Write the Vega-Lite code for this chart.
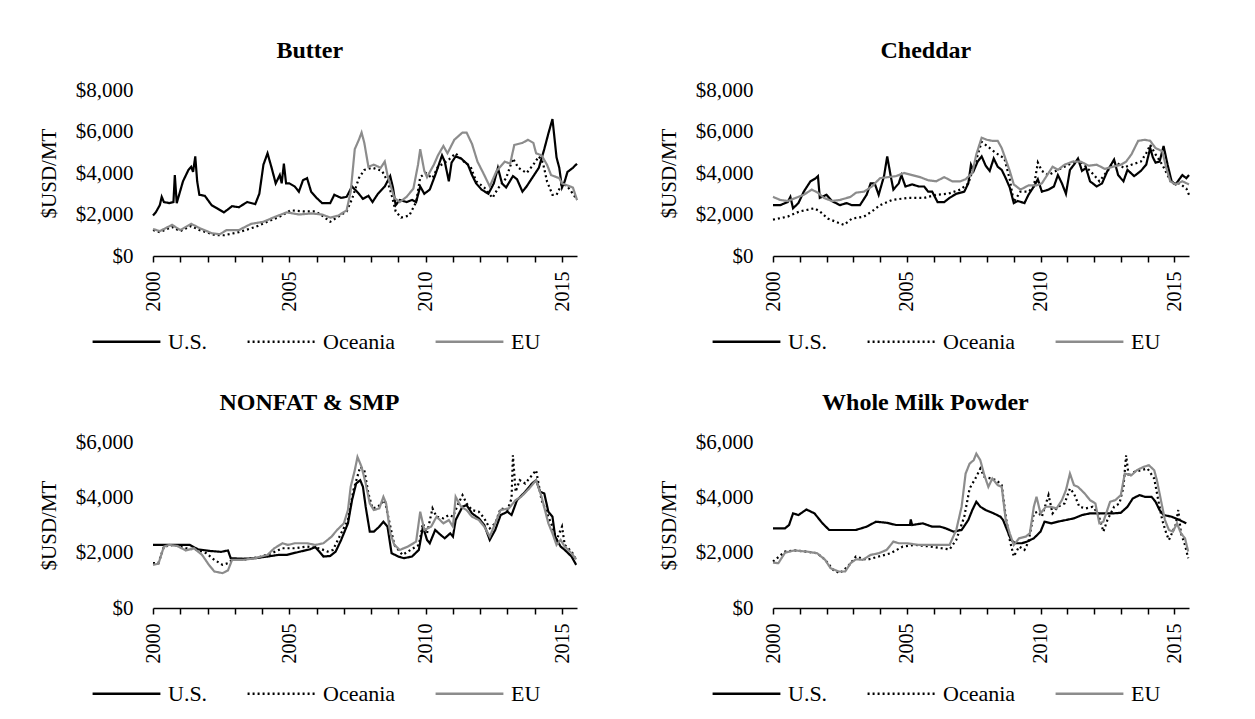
{
"$schema": "https://vega.github.io/schema/vega-lite/v6.json",
"background": "white",
"padding": {"left": 38, "top": 39, "right": 5, "bottom": 5},
"columns": 2,
"bounds": "flush",
"spacing": {"row": 186, "column": 196},
"datasets": {
"butter": [
{"s":"U.S.","t":2000.0,"v":1950},{"s":"U.S.","t":2000.1,"v":2100},{"s":"U.S.","t":2000.25,"v":2450},{"s":"U.S.","t":2000.32,"v":2850},{"s":"U.S.","t":2000.4,"v":2600},{"s":"U.S.","t":2000.6,"v":2550},{"s":"U.S.","t":2000.75,"v":2600},{"s":"U.S.","t":2000.8,"v":3900},{"s":"U.S.","t":2000.87,"v":2550},{"s":"U.S.","t":2001.1,"v":3600},{"s":"U.S.","t":2001.3,"v":4150},{"s":"U.S.","t":2001.4,"v":4300},{"s":"U.S.","t":2001.47,"v":4050},{"s":"U.S.","t":2001.55,"v":4800},{"s":"U.S.","t":2001.62,"v":3600},{"s":"U.S.","t":2001.7,"v":2950},{"s":"U.S.","t":2001.9,"v":2900},{"s":"U.S.","t":2002.15,"v":2450},{"s":"U.S.","t":2002.35,"v":2300},{"s":"U.S.","t":2002.6,"v":2100},{"s":"U.S.","t":2002.9,"v":2400},{"s":"U.S.","t":2003.15,"v":2350},{"s":"U.S.","t":2003.45,"v":2600},{"s":"U.S.","t":2003.75,"v":2500},{"s":"U.S.","t":2003.9,"v":3000},{"s":"U.S.","t":2004.05,"v":4400},{"s":"U.S.","t":2004.2,"v":4950},{"s":"U.S.","t":2004.35,"v":4250},{"s":"U.S.","t":2004.5,"v":3500},{"s":"U.S.","t":2004.65,"v":3900},{"s":"U.S.","t":2004.72,"v":3500},{"s":"U.S.","t":2004.8,"v":4450},{"s":"U.S.","t":2004.88,"v":3500},{"s":"U.S.","t":2005.0,"v":3500},{"s":"U.S.","t":2005.2,"v":3350},{"s":"U.S.","t":2005.35,"v":3100},{"s":"U.S.","t":2005.5,"v":3650},{"s":"U.S.","t":2005.65,"v":3750},{"s":"U.S.","t":2005.8,"v":3100},{"s":"U.S.","t":2006.0,"v":2800},{"s":"U.S.","t":2006.2,"v":2550},{"s":"U.S.","t":2006.5,"v":2550},{"s":"U.S.","t":2006.65,"v":2950},{"s":"U.S.","t":2006.9,"v":2800},{"s":"U.S.","t":2007.1,"v":2850},{"s":"U.S.","t":2007.3,"v":3350},{"s":"U.S.","t":2007.55,"v":3000},{"s":"U.S.","t":2007.7,"v":2750},{"s":"U.S.","t":2007.9,"v":2900},{"s":"U.S.","t":2008.05,"v":2600},{"s":"U.S.","t":2008.25,"v":3000},{"s":"U.S.","t":2008.5,"v":3350},{"s":"U.S.","t":2008.6,"v":3600},{"s":"U.S.","t":2008.7,"v":3850},{"s":"U.S.","t":2008.8,"v":3300},{"s":"U.S.","t":2008.9,"v":2450},{"s":"U.S.","t":2009.05,"v":2700},{"s":"U.S.","t":2009.3,"v":2600},{"s":"U.S.","t":2009.5,"v":2700},{"s":"U.S.","t":2009.65,"v":2600},{"s":"U.S.","t":2009.8,"v":3350},{"s":"U.S.","t":2009.95,"v":3000},{"s":"U.S.","t":2010.15,"v":3200},{"s":"U.S.","t":2010.35,"v":3900},{"s":"U.S.","t":2010.6,"v":4850},{"s":"U.S.","t":2010.7,"v":4550},{"s":"U.S.","t":2010.85,"v":3600},{"s":"U.S.","t":2010.95,"v":4500},{"s":"U.S.","t":2011.1,"v":4800},{"s":"U.S.","t":2011.3,"v":4700},{"s":"U.S.","t":2011.55,"v":4400},{"s":"U.S.","t":2011.7,"v":3900},{"s":"U.S.","t":2011.85,"v":3500},{"s":"U.S.","t":2012.05,"v":3200},{"s":"U.S.","t":2012.3,"v":3000},{"s":"U.S.","t":2012.5,"v":3500},{"s":"U.S.","t":2012.65,"v":4250},{"s":"U.S.","t":2012.8,"v":3500},{"s":"U.S.","t":2012.95,"v":3300},{"s":"U.S.","t":2013.2,"v":3850},{"s":"U.S.","t":2013.35,"v":3700},{"s":"U.S.","t":2013.55,"v":3100},{"s":"U.S.","t":2013.7,"v":3350},{"s":"U.S.","t":2013.95,"v":3850},{"s":"U.S.","t":2014.15,"v":4250},{"s":"U.S.","t":2014.35,"v":5150},{"s":"U.S.","t":2014.5,"v":5900},{"s":"U.S.","t":2014.65,"v":6600},{"s":"U.S.","t":2014.8,"v":4750},{"s":"U.S.","t":2014.9,"v":4250},{"s":"U.S.","t":2015.0,"v":3300},{"s":"U.S.","t":2015.1,"v":3600},{"s":"U.S.","t":2015.2,"v":4050},{"s":"U.S.","t":2015.4,"v":4250},{"s":"U.S.","t":2015.55,"v":4450},
{"s":"Oceania","t":2000.0,"v":1250},{"s":"Oceania","t":2000.25,"v":1150},{"s":"Oceania","t":2000.7,"v":1400},{"s":"Oceania","t":2001.0,"v":1200},{"s":"Oceania","t":2001.4,"v":1450},{"s":"Oceania","t":2001.7,"v":1250},{"s":"Oceania","t":2002.3,"v":1000},{"s":"Oceania","t":2002.6,"v":1000},{"s":"Oceania","t":2003.15,"v":1150},{"s":"Oceania","t":2003.75,"v":1400},{"s":"Oceania","t":2004.2,"v":1650},{"s":"Oceania","t":2004.65,"v":1900},{"s":"Oceania","t":2005.05,"v":2200},{"s":"Oceania","t":2005.5,"v":2150},{"s":"Oceania","t":2005.95,"v":2150},{"s":"Oceania","t":2006.2,"v":1950},{"s":"Oceania","t":2006.5,"v":1650},{"s":"Oceania","t":2006.8,"v":1900},{"s":"Oceania","t":2007.1,"v":2150},{"s":"Oceania","t":2007.3,"v":2750},{"s":"Oceania","t":2007.55,"v":3750},{"s":"Oceania","t":2007.75,"v":4150},{"s":"Oceania","t":2008.05,"v":4250},{"s":"Oceania","t":2008.4,"v":4100},{"s":"Oceania","t":2008.6,"v":3600},{"s":"Oceania","t":2008.75,"v":2950},{"s":"Oceania","t":2008.9,"v":2150},{"s":"Oceania","t":2009.1,"v":1850},{"s":"Oceania","t":2009.4,"v":1950},{"s":"Oceania","t":2009.65,"v":2600},{"s":"Oceania","t":2009.8,"v":3800},{"s":"Oceania","t":2010.0,"v":4000},{"s":"Oceania","t":2010.25,"v":3750},{"s":"Oceania","t":2010.45,"v":4300},{"s":"Oceania","t":2010.65,"v":4450},{"s":"Oceania","t":2010.9,"v":4700},{"s":"Oceania","t":2011.1,"v":4950},{"s":"Oceania","t":2011.35,"v":4600},{"s":"Oceania","t":2011.65,"v":4300},{"s":"Oceania","t":2011.85,"v":3600},{"s":"Oceania","t":2012.15,"v":3300},{"s":"Oceania","t":2012.45,"v":2800},{"s":"Oceania","t":2012.65,"v":3250},{"s":"Oceania","t":2012.95,"v":3750},{"s":"Oceania","t":2013.2,"v":4700},{"s":"Oceania","t":2013.4,"v":4250},{"s":"Oceania","t":2013.7,"v":4000},{"s":"Oceania","t":2013.95,"v":4400},{"s":"Oceania","t":2014.15,"v":4800},{"s":"Oceania","t":2014.3,"v":4500},{"s":"Oceania","t":2014.45,"v":3600},{"s":"Oceania","t":2014.65,"v":2950},{"s":"Oceania","t":2014.8,"v":2950},{"s":"Oceania","t":2015.0,"v":3500},{"s":"Oceania","t":2015.2,"v":3350},{"s":"Oceania","t":2015.4,"v":3000},{"s":"Oceania","t":2015.55,"v":2700},
{"s":"EU","t":2000.0,"v":1300},{"s":"EU","t":2000.25,"v":1200},{"s":"EU","t":2000.7,"v":1500},{"s":"EU","t":2001.0,"v":1250},{"s":"EU","t":2001.4,"v":1550},{"s":"EU","t":2001.7,"v":1350},{"s":"EU","t":2002.15,"v":1100},{"s":"EU","t":2002.45,"v":1050},{"s":"EU","t":2002.7,"v":1250},{"s":"EU","t":2003.15,"v":1250},{"s":"EU","t":2003.6,"v":1550},{"s":"EU","t":2004.05,"v":1650},{"s":"EU","t":2004.5,"v":1900},{"s":"EU","t":2004.9,"v":2100},{"s":"EU","t":2005.35,"v":2000},{"s":"EU","t":2005.8,"v":2050},{"s":"EU","t":2006.2,"v":2000},{"s":"EU","t":2006.5,"v":1850},{"s":"EU","t":2006.8,"v":1950},{"s":"EU","t":2007.1,"v":2200},{"s":"EU","t":2007.25,"v":3100},{"s":"EU","t":2007.4,"v":5150},{"s":"EU","t":2007.55,"v":5600},{"s":"EU","t":2007.65,"v":5950},{"s":"EU","t":2007.75,"v":5450},{"s":"EU","t":2007.9,"v":4300},{"s":"EU","t":2008.1,"v":4400},{"s":"EU","t":2008.35,"v":4250},{"s":"EU","t":2008.5,"v":4550},{"s":"EU","t":2008.6,"v":3900},{"s":"EU","t":2008.85,"v":2800},{"s":"EU","t":2009.05,"v":2600},{"s":"EU","t":2009.3,"v":2850},{"s":"EU","t":2009.55,"v":3250},{"s":"EU","t":2009.72,"v":4400},{"s":"EU","t":2009.8,"v":5150},{"s":"EU","t":2009.95,"v":4100},{"s":"EU","t":2010.05,"v":3800},{"s":"EU","t":2010.3,"v":4400},{"s":"EU","t":2010.45,"v":4850},{"s":"EU","t":2010.65,"v":5300},{"s":"EU","t":2010.8,"v":4950},{"s":"EU","t":2011.05,"v":5600},{"s":"EU","t":2011.35,"v":5950},{"s":"EU","t":2011.5,"v":5950},{"s":"EU","t":2011.7,"v":5400},{"s":"EU","t":2011.9,"v":4550},{"s":"EU","t":2012.15,"v":3900},{"s":"EU","t":2012.35,"v":3350},{"s":"EU","t":2012.6,"v":4100},{"s":"EU","t":2012.9,"v":4550},{"s":"EU","t":2013.1,"v":4450},{"s":"EU","t":2013.25,"v":5350},{"s":"EU","t":2013.55,"v":5450},{"s":"EU","t":2013.75,"v":5600},{"s":"EU","t":2013.95,"v":5450},{"s":"EU","t":2014.05,"v":4950},{"s":"EU","t":2014.25,"v":4850},{"s":"EU","t":2014.45,"v":4400},{"s":"EU","t":2014.6,"v":3900},{"s":"EU","t":2014.9,"v":3750},{"s":"EU","t":2015.0,"v":3500},{"s":"EU","t":2015.2,"v":3400},{"s":"EU","t":2015.4,"v":3300},{"s":"EU","t":2015.55,"v":2700}
],
"cheddar": [
{"s":"U.S.","t":2000.0,"v":2450},{"s":"U.S.","t":2000.27,"v":2450},{"s":"U.S.","t":2000.55,"v":2600},{"s":"U.S.","t":2000.65,"v":2850},{"s":"U.S.","t":2000.75,"v":2300},{"s":"U.S.","t":2000.95,"v":2550},{"s":"U.S.","t":2001.15,"v":3100},{"s":"U.S.","t":2001.4,"v":3600},{"s":"U.S.","t":2001.6,"v":3750},{"s":"U.S.","t":2001.68,"v":3850},{"s":"U.S.","t":2001.75,"v":2800},{"s":"U.S.","t":2002.0,"v":2950},{"s":"U.S.","t":2002.2,"v":2650},{"s":"U.S.","t":2002.5,"v":2450},{"s":"U.S.","t":2002.75,"v":2550},{"s":"U.S.","t":2002.95,"v":2450},{"s":"U.S.","t":2003.25,"v":2450},{"s":"U.S.","t":2003.5,"v":2950},{"s":"U.S.","t":2003.65,"v":3500},{"s":"U.S.","t":2003.8,"v":3500},{"s":"U.S.","t":2003.95,"v":2950},{"s":"U.S.","t":2004.15,"v":3850},{"s":"U.S.","t":2004.27,"v":4800},{"s":"U.S.","t":2004.4,"v":3850},{"s":"U.S.","t":2004.5,"v":3200},{"s":"U.S.","t":2004.7,"v":3500},{"s":"U.S.","t":2004.8,"v":3900},{"s":"U.S.","t":2004.95,"v":3350},{"s":"U.S.","t":2005.2,"v":3450},{"s":"U.S.","t":2005.45,"v":3350},{"s":"U.S.","t":2005.65,"v":3350},{"s":"U.S.","t":2005.8,"v":3100},{"s":"U.S.","t":2005.95,"v":3100},{"s":"U.S.","t":2006.15,"v":2600},{"s":"U.S.","t":2006.4,"v":2600},{"s":"U.S.","t":2006.6,"v":2800},{"s":"U.S.","t":2006.85,"v":3000},{"s":"U.S.","t":2007.15,"v":3100},{"s":"U.S.","t":2007.3,"v":3500},{"s":"U.S.","t":2007.4,"v":4400},{"s":"U.S.","t":2007.5,"v":4100},{"s":"U.S.","t":2007.65,"v":4550},{"s":"U.S.","t":2007.8,"v":4800},{"s":"U.S.","t":2007.95,"v":4350},{"s":"U.S.","t":2008.1,"v":4100},{"s":"U.S.","t":2008.25,"v":4700},{"s":"U.S.","t":2008.4,"v":4300},{"s":"U.S.","t":2008.55,"v":4150},{"s":"U.S.","t":2008.7,"v":3750},{"s":"U.S.","t":2008.85,"v":3300},{"s":"U.S.","t":2009.0,"v":2550},{"s":"U.S.","t":2009.15,"v":2650},{"s":"U.S.","t":2009.4,"v":2550},{"s":"U.S.","t":2009.55,"v":2950},{"s":"U.S.","t":2009.75,"v":3350},{"s":"U.S.","t":2009.9,"v":3700},{"s":"U.S.","t":2010.05,"v":3100},{"s":"U.S.","t":2010.3,"v":3200},{"s":"U.S.","t":2010.5,"v":3350},{"s":"U.S.","t":2010.65,"v":3900},{"s":"U.S.","t":2010.8,"v":3500},{"s":"U.S.","t":2010.95,"v":3000},{"s":"U.S.","t":2011.1,"v":4150},{"s":"U.S.","t":2011.25,"v":4400},{"s":"U.S.","t":2011.4,"v":4700},{"s":"U.S.","t":2011.55,"v":4100},{"s":"U.S.","t":2011.7,"v":4250},{"s":"U.S.","t":2011.85,"v":3600},{"s":"U.S.","t":2012.1,"v":3350},{"s":"U.S.","t":2012.3,"v":3500},{"s":"U.S.","t":2012.5,"v":4100},{"s":"U.S.","t":2012.75,"v":4650},{"s":"U.S.","t":2012.9,"v":3900},{"s":"U.S.","t":2013.1,"v":3600},{"s":"U.S.","t":2013.25,"v":4150},{"s":"U.S.","t":2013.5,"v":3850},{"s":"U.S.","t":2013.75,"v":4100},{"s":"U.S.","t":2013.95,"v":4400},{"s":"U.S.","t":2014.1,"v":5200},{"s":"U.S.","t":2014.2,"v":4750},{"s":"U.S.","t":2014.3,"v":4500},{"s":"U.S.","t":2014.45,"v":4550},{"s":"U.S.","t":2014.6,"v":5300},{"s":"U.S.","t":2014.75,"v":4400},{"s":"U.S.","t":2014.9,"v":3600},{"s":"U.S.","t":2015.05,"v":3450},{"s":"U.S.","t":2015.3,"v":3900},{"s":"U.S.","t":2015.45,"v":3750},{"s":"U.S.","t":2015.55,"v":3900},
{"s":"Oceania","t":2000.0,"v":1750},{"s":"Oceania","t":2000.55,"v":1900},{"s":"Oceania","t":2001.0,"v":2150},{"s":"Oceania","t":2001.55,"v":2300},{"s":"Oceania","t":2001.75,"v":2150},{"s":"Oceania","t":2002.05,"v":1800},{"s":"Oceania","t":2002.35,"v":1650},{"s":"Oceania","t":2002.65,"v":1500},{"s":"Oceania","t":2002.95,"v":1800},{"s":"Oceania","t":2003.4,"v":1900},{"s":"Oceania","t":2003.7,"v":2150},{"s":"Oceania","t":2004.0,"v":2450},{"s":"Oceania","t":2004.45,"v":2700},{"s":"Oceania","t":2005.05,"v":2800},{"s":"Oceania","t":2005.65,"v":2800},{"s":"Oceania","t":2006.1,"v":2950},{"s":"Oceania","t":2006.55,"v":3000},{"s":"Oceania","t":2007.0,"v":3200},{"s":"Oceania","t":2007.3,"v":3500},{"s":"Oceania","t":2007.6,"v":4650},{"s":"Oceania","t":2007.8,"v":5500},{"s":"Oceania","t":2008.05,"v":5250},{"s":"Oceania","t":2008.35,"v":4950},{"s":"Oceania","t":2008.65,"v":4700},{"s":"Oceania","t":2008.85,"v":3700},{"s":"Oceania","t":2009.0,"v":2600},{"s":"Oceania","t":2009.25,"v":3100},{"s":"Oceania","t":2009.55,"v":3100},{"s":"Oceania","t":2009.75,"v":3350},{"s":"Oceania","t":2009.9,"v":4500},{"s":"Oceania","t":2010.05,"v":4100},{"s":"Oceania","t":2010.3,"v":3900},{"s":"Oceania","t":2010.65,"v":4150},{"s":"Oceania","t":2011.05,"v":4400},{"s":"Oceania","t":2011.4,"v":4650},{"s":"Oceania","t":2011.7,"v":4300},{"s":"Oceania","t":2012.0,"v":3900},{"s":"Oceania","t":2012.2,"v":3600},{"s":"Oceania","t":2012.5,"v":4100},{"s":"Oceania","t":2012.8,"v":4550},{"s":"Oceania","t":2013.1,"v":4250},{"s":"Oceania","t":2013.4,"v":4400},{"s":"Oceania","t":2013.75,"v":4550},{"s":"Oceania","t":2013.95,"v":4950},{"s":"Oceania","t":2014.1,"v":5350},{"s":"Oceania","t":2014.3,"v":4900},{"s":"Oceania","t":2014.55,"v":4400},{"s":"Oceania","t":2014.75,"v":3900},{"s":"Oceania","t":2014.9,"v":3500},{"s":"Oceania","t":2015.2,"v":3500},{"s":"Oceania","t":2015.45,"v":3250},{"s":"Oceania","t":2015.55,"v":2950},
{"s":"EU","t":2000.0,"v":2850},{"s":"EU","t":2000.27,"v":2700},{"s":"EU","t":2000.55,"v":2650},{"s":"EU","t":2000.85,"v":2800},{"s":"EU","t":2001.15,"v":2950},{"s":"EU","t":2001.45,"v":3200},{"s":"EU","t":2001.68,"v":3050},{"s":"EU","t":2001.9,"v":2800},{"s":"EU","t":2002.2,"v":2650},{"s":"EU","t":2002.5,"v":2700},{"s":"EU","t":2002.9,"v":2850},{"s":"EU","t":2003.1,"v":3050},{"s":"EU","t":2003.4,"v":3100},{"s":"EU","t":2003.7,"v":3350},{"s":"EU","t":2004.0,"v":3750},{"s":"EU","t":2004.3,"v":3800},{"s":"EU","t":2004.6,"v":3850},{"s":"EU","t":2004.9,"v":4000},{"s":"EU","t":2005.2,"v":3900},{"s":"EU","t":2005.5,"v":3800},{"s":"EU","t":2005.8,"v":3650},{"s":"EU","t":2006.1,"v":3600},{"s":"EU","t":2006.4,"v":3800},{"s":"EU","t":2006.7,"v":3600},{"s":"EU","t":2007.0,"v":3600},{"s":"EU","t":2007.2,"v":3700},{"s":"EU","t":2007.45,"v":4000},{"s":"EU","t":2007.6,"v":4900},{"s":"EU","t":2007.8,"v":5700},{"s":"EU","t":2008.0,"v":5600},{"s":"EU","t":2008.2,"v":5550},{"s":"EU","t":2008.4,"v":5550},{"s":"EU","t":2008.55,"v":5200},{"s":"EU","t":2008.7,"v":4650},{"s":"EU","t":2008.85,"v":4100},{"s":"EU","t":2009.0,"v":3450},{"s":"EU","t":2009.25,"v":3200},{"s":"EU","t":2009.55,"v":3400},{"s":"EU","t":2009.85,"v":3400},{"s":"EU","t":2010.05,"v":3500},{"s":"EU","t":2010.3,"v":4000},{"s":"EU","t":2010.45,"v":4300},{"s":"EU","t":2010.65,"v":4150},{"s":"EU","t":2010.9,"v":4400},{"s":"EU","t":2011.2,"v":4550},{"s":"EU","t":2011.5,"v":4550},{"s":"EU","t":2011.8,"v":4350},{"s":"EU","t":2012.1,"v":4400},{"s":"EU","t":2012.4,"v":4200},{"s":"EU","t":2012.7,"v":4300},{"s":"EU","t":2013.0,"v":4400},{"s":"EU","t":2013.2,"v":4550},{"s":"EU","t":2013.4,"v":4900},{"s":"EU","t":2013.65,"v":5550},{"s":"EU","t":2013.9,"v":5600},{"s":"EU","t":2014.1,"v":5550},{"s":"EU","t":2014.3,"v":5200},{"s":"EU","t":2014.55,"v":5050},{"s":"EU","t":2014.7,"v":4250},{"s":"EU","t":2014.85,"v":3600},{"s":"EU","t":2015.05,"v":3450},{"s":"EU","t":2015.3,"v":3600},{"s":"EU","t":2015.55,"v":3450}
],
"nonfat": [
{"s":"U.S.","t":2000.0,"v":2280},{"s":"U.S.","t":2000.9,"v":2280},{"s":"U.S.","t":2001.35,"v":2280},{"s":"U.S.","t":2001.65,"v":2120},{"s":"U.S.","t":2002.1,"v":2060},{"s":"U.S.","t":2002.5,"v":2030},{"s":"U.S.","t":2002.75,"v":2080},{"s":"U.S.","t":2002.85,"v":1800},{"s":"U.S.","t":2003.3,"v":1780},{"s":"U.S.","t":2003.75,"v":1800},{"s":"U.S.","t":2004.2,"v":1860},{"s":"U.S.","t":2004.6,"v":1920},{"s":"U.S.","t":2004.9,"v":1920},{"s":"U.S.","t":2005.4,"v":2040},{"s":"U.S.","t":2005.75,"v":2120},{"s":"U.S.","t":2005.95,"v":2200},{"s":"U.S.","t":2006.1,"v":2040},{"s":"U.S.","t":2006.25,"v":1860},{"s":"U.S.","t":2006.5,"v":1880},{"s":"U.S.","t":2006.7,"v":2040},{"s":"U.S.","t":2006.9,"v":2460},{"s":"U.S.","t":2007.15,"v":3060},{"s":"U.S.","t":2007.3,"v":3900},{"s":"U.S.","t":2007.45,"v":4500},{"s":"U.S.","t":2007.6,"v":4620},{"s":"U.S.","t":2007.7,"v":4380},{"s":"U.S.","t":2007.8,"v":3660},{"s":"U.S.","t":2007.95,"v":2760},{"s":"U.S.","t":2008.1,"v":2760},{"s":"U.S.","t":2008.3,"v":2940},{"s":"U.S.","t":2008.45,"v":3120},{"s":"U.S.","t":2008.6,"v":2940},{"s":"U.S.","t":2008.75,"v":1980},{"s":"U.S.","t":2009.0,"v":1860},{"s":"U.S.","t":2009.2,"v":1800},{"s":"U.S.","t":2009.5,"v":1860},{"s":"U.S.","t":2009.75,"v":2100},{"s":"U.S.","t":2009.9,"v":2940},{"s":"U.S.","t":2010.05,"v":2460},{"s":"U.S.","t":2010.15,"v":2340},{"s":"U.S.","t":2010.35,"v":2820},{"s":"U.S.","t":2010.55,"v":2640},{"s":"U.S.","t":2010.7,"v":2520},{"s":"U.S.","t":2010.9,"v":2700},{"s":"U.S.","t":2011.0,"v":2580},{"s":"U.S.","t":2011.1,"v":3180},{"s":"U.S.","t":2011.35,"v":3660},{"s":"U.S.","t":2011.5,"v":3720},{"s":"U.S.","t":2011.7,"v":3420},{"s":"U.S.","t":2011.95,"v":3240},{"s":"U.S.","t":2012.15,"v":3000},{"s":"U.S.","t":2012.35,"v":2460},{"s":"U.S.","t":2012.55,"v":2820},{"s":"U.S.","t":2012.75,"v":3360},{"s":"U.S.","t":2013.0,"v":3480},{"s":"U.S.","t":2013.15,"v":3360},{"s":"U.S.","t":2013.35,"v":3900},{"s":"U.S.","t":2013.65,"v":4200},{"s":"U.S.","t":2013.9,"v":4500},{"s":"U.S.","t":2014.05,"v":4620},{"s":"U.S.","t":2014.2,"v":4200},{"s":"U.S.","t":2014.35,"v":4140},{"s":"U.S.","t":2014.5,"v":3480},{"s":"U.S.","t":2014.65,"v":3300},{"s":"U.S.","t":2014.75,"v":2580},{"s":"U.S.","t":2014.95,"v":2220},{"s":"U.S.","t":2015.1,"v":2100},{"s":"U.S.","t":2015.35,"v":1860},{"s":"U.S.","t":2015.52,"v":1560},
{"s":"Oceania","t":2000.0,"v":1620},{"s":"Oceania","t":2000.2,"v":1620},{"s":"Oceania","t":2000.4,"v":2220},{"s":"Oceania","t":2000.75,"v":2280},{"s":"Oceania","t":2001.2,"v":2160},{"s":"Oceania","t":2001.65,"v":2100},{"s":"Oceania","t":2001.95,"v":1980},{"s":"Oceania","t":2002.25,"v":1740},{"s":"Oceania","t":2002.55,"v":1560},{"s":"Oceania","t":2002.75,"v":1620},{"s":"Oceania","t":2002.9,"v":1740},{"s":"Oceania","t":2003.3,"v":1740},{"s":"Oceania","t":2003.9,"v":1840},{"s":"Oceania","t":2004.35,"v":1980},{"s":"Oceania","t":2004.75,"v":2160},{"s":"Oceania","t":2005.2,"v":2160},{"s":"Oceania","t":2005.65,"v":2220},{"s":"Oceania","t":2006.1,"v":2160},{"s":"Oceania","t":2006.4,"v":2040},{"s":"Oceania","t":2006.6,"v":2100},{"s":"Oceania","t":2006.9,"v":2700},{"s":"Oceania","t":2007.15,"v":3180},{"s":"Oceania","t":2007.35,"v":4260},{"s":"Oceania","t":2007.6,"v":5100},{"s":"Oceania","t":2007.75,"v":4980},{"s":"Oceania","t":2007.9,"v":4140},{"s":"Oceania","t":2008.05,"v":3600},{"s":"Oceania","t":2008.25,"v":3660},{"s":"Oceania","t":2008.5,"v":3900},{"s":"Oceania","t":2008.6,"v":3420},{"s":"Oceania","t":2008.85,"v":2280},{"s":"Oceania","t":2009.15,"v":1920},{"s":"Oceania","t":2009.45,"v":2100},{"s":"Oceania","t":2009.75,"v":2280},{"s":"Oceania","t":2009.9,"v":3060},{"s":"Oceania","t":2010.05,"v":2700},{"s":"Oceania","t":2010.25,"v":3600},{"s":"Oceania","t":2010.4,"v":3300},{"s":"Oceania","t":2010.65,"v":3240},{"s":"Oceania","t":2010.85,"v":3360},{"s":"Oceania","t":2011.0,"v":3300},{"s":"Oceania","t":2011.2,"v":3780},{"s":"Oceania","t":2011.35,"v":4080},{"s":"Oceania","t":2011.5,"v":3780},{"s":"Oceania","t":2011.7,"v":3540},{"s":"Oceania","t":2011.95,"v":3480},{"s":"Oceania","t":2012.15,"v":3240},{"s":"Oceania","t":2012.35,"v":2880},{"s":"Oceania","t":2012.55,"v":3060},{"s":"Oceania","t":2012.75,"v":3600},{"s":"Oceania","t":2013.0,"v":3540},{"s":"Oceania","t":2013.15,"v":3960},{"s":"Oceania","t":2013.2,"v":5520},{"s":"Oceania","t":2013.3,"v":4200},{"s":"Oceania","t":2013.45,"v":4620},{"s":"Oceania","t":2013.65,"v":4500},{"s":"Oceania","t":2013.9,"v":4800},{"s":"Oceania","t":2014.05,"v":4980},{"s":"Oceania","t":2014.25,"v":3900},{"s":"Oceania","t":2014.5,"v":3300},{"s":"Oceania","t":2014.65,"v":2940},{"s":"Oceania","t":2014.8,"v":2460},{"s":"Oceania","t":2015.0,"v":2940},{"s":"Oceania","t":2015.1,"v":2280},{"s":"Oceania","t":2015.35,"v":2040},{"s":"Oceania","t":2015.52,"v":1740},
{"s":"EU","t":2000.0,"v":1560},{"s":"EU","t":2000.2,"v":1600},{"s":"EU","t":2000.4,"v":2220},{"s":"EU","t":2000.6,"v":2280},{"s":"EU","t":2000.9,"v":2240},{"s":"EU","t":2001.2,"v":2080},{"s":"EU","t":2001.5,"v":2160},{"s":"EU","t":2001.8,"v":1920},{"s":"EU","t":2002.05,"v":1560},{"s":"EU","t":2002.25,"v":1320},{"s":"EU","t":2002.55,"v":1260},{"s":"EU","t":2002.75,"v":1360},{"s":"EU","t":2002.9,"v":1740},{"s":"EU","t":2003.3,"v":1740},{"s":"EU","t":2003.75,"v":1800},{"s":"EU","t":2004.2,"v":1920},{"s":"EU","t":2004.45,"v":2160},{"s":"EU","t":2004.75,"v":2340},{"s":"EU","t":2004.95,"v":2280},{"s":"EU","t":2005.2,"v":2340},{"s":"EU","t":2005.65,"v":2340},{"s":"EU","t":2005.95,"v":2280},{"s":"EU","t":2006.25,"v":2340},{"s":"EU","t":2006.55,"v":2580},{"s":"EU","t":2006.75,"v":2820},{"s":"EU","t":2007.0,"v":3060},{"s":"EU","t":2007.15,"v":3540},{"s":"EU","t":2007.25,"v":4380},{"s":"EU","t":2007.4,"v":4980},{"s":"EU","t":2007.5,"v":5460},{"s":"EU","t":2007.65,"v":5100},{"s":"EU","t":2007.8,"v":4500},{"s":"EU","t":2007.95,"v":3780},{"s":"EU","t":2008.1,"v":3540},{"s":"EU","t":2008.3,"v":3600},{"s":"EU","t":2008.45,"v":4020},{"s":"EU","t":2008.55,"v":3780},{"s":"EU","t":2008.7,"v":2700},{"s":"EU","t":2008.85,"v":2280},{"s":"EU","t":2009.05,"v":2100},{"s":"EU","t":2009.35,"v":2220},{"s":"EU","t":2009.65,"v":2400},{"s":"EU","t":2009.8,"v":3480},{"s":"EU","t":2009.95,"v":2820},{"s":"EU","t":2010.2,"v":2940},{"s":"EU","t":2010.4,"v":3300},{"s":"EU","t":2010.65,"v":3060},{"s":"EU","t":2010.85,"v":3180},{"s":"EU","t":2011.0,"v":2940},{"s":"EU","t":2011.1,"v":4020},{"s":"EU","t":2011.3,"v":3660},{"s":"EU","t":2011.5,"v":3540},{"s":"EU","t":2011.7,"v":3300},{"s":"EU","t":2011.95,"v":3180},{"s":"EU","t":2012.15,"v":2940},{"s":"EU","t":2012.35,"v":2580},{"s":"EU","t":2012.55,"v":3060},{"s":"EU","t":2012.75,"v":3540},{"s":"EU","t":2013.05,"v":3600},{"s":"EU","t":2013.3,"v":3900},{"s":"EU","t":2013.5,"v":4020},{"s":"EU","t":2013.8,"v":4320},{"s":"EU","t":2014.05,"v":4620},{"s":"EU","t":2014.25,"v":4020},{"s":"EU","t":2014.5,"v":3060},{"s":"EU","t":2014.65,"v":2700},{"s":"EU","t":2014.8,"v":2280},{"s":"EU","t":2014.95,"v":2460},{"s":"EU","t":2015.1,"v":2220},{"s":"EU","t":2015.35,"v":1980},{"s":"EU","t":2015.52,"v":1760}
],
"wmp": [
{"s":"U.S.","t":2000.0,"v":2880},{"s":"U.S.","t":2000.45,"v":2880},{"s":"U.S.","t":2000.6,"v":3000},{"s":"U.S.","t":2000.75,"v":3420},{"s":"U.S.","t":2000.95,"v":3360},{"s":"U.S.","t":2001.25,"v":3560},{"s":"U.S.","t":2001.55,"v":3420},{"s":"U.S.","t":2001.85,"v":3060},{"s":"U.S.","t":2002.1,"v":2820},{"s":"U.S.","t":2002.3,"v":2820},{"s":"U.S.","t":2002.65,"v":2820},{"s":"U.S.","t":2003.1,"v":2820},{"s":"U.S.","t":2003.5,"v":2940},{"s":"U.S.","t":2003.85,"v":3120},{"s":"U.S.","t":2004.25,"v":3080},{"s":"U.S.","t":2004.6,"v":3000},{"s":"U.S.","t":2005.0,"v":3000},{"s":"U.S.","t":2005.12,"v":3000},{"s":"U.S.","t":2005.15,"v":3200},{"s":"U.S.","t":2005.2,"v":3000},{"s":"U.S.","t":2005.6,"v":3060},{"s":"U.S.","t":2005.95,"v":2940},{"s":"U.S.","t":2006.25,"v":2940},{"s":"U.S.","t":2006.45,"v":2880},{"s":"U.S.","t":2006.75,"v":2760},{"s":"U.S.","t":2007.05,"v":2820},{"s":"U.S.","t":2007.3,"v":3180},{"s":"U.S.","t":2007.45,"v":3540},{"s":"U.S.","t":2007.6,"v":3840},{"s":"U.S.","t":2007.75,"v":3660},{"s":"U.S.","t":2007.95,"v":3540},{"s":"U.S.","t":2008.25,"v":3420},{"s":"U.S.","t":2008.5,"v":3300},{"s":"U.S.","t":2008.6,"v":3180},{"s":"U.S.","t":2008.8,"v":2700},{"s":"U.S.","t":2008.9,"v":2460},{"s":"U.S.","t":2009.05,"v":2340},{"s":"U.S.","t":2009.3,"v":2340},{"s":"U.S.","t":2009.5,"v":2400},{"s":"U.S.","t":2009.75,"v":2520},{"s":"U.S.","t":2010.0,"v":2760},{"s":"U.S.","t":2010.15,"v":3120},{"s":"U.S.","t":2010.4,"v":3060},{"s":"U.S.","t":2010.65,"v":3120},{"s":"U.S.","t":2010.95,"v":3180},{"s":"U.S.","t":2011.25,"v":3240},{"s":"U.S.","t":2011.55,"v":3360},{"s":"U.S.","t":2011.85,"v":3420},{"s":"U.S.","t":2012.1,"v":3420},{"s":"U.S.","t":2012.4,"v":3420},{"s":"U.S.","t":2012.7,"v":3420},{"s":"U.S.","t":2013.0,"v":3440},{"s":"U.S.","t":2013.25,"v":3660},{"s":"U.S.","t":2013.45,"v":3960},{"s":"U.S.","t":2013.7,"v":4080},{"s":"U.S.","t":2013.9,"v":4020},{"s":"U.S.","t":2014.15,"v":4020},{"s":"U.S.","t":2014.3,"v":3840},{"s":"U.S.","t":2014.45,"v":3540},{"s":"U.S.","t":2014.6,"v":3360},{"s":"U.S.","t":2014.9,"v":3300},{"s":"U.S.","t":2015.15,"v":3200},{"s":"U.S.","t":2015.45,"v":3060},
{"s":"Oceania","t":2000.0,"v":1680},{"s":"Oceania","t":2000.45,"v":2040},{"s":"Oceania","t":2000.8,"v":2080},{"s":"Oceania","t":2001.25,"v":2040},{"s":"Oceania","t":2001.65,"v":1980},{"s":"Oceania","t":2001.95,"v":1740},{"s":"Oceania","t":2002.25,"v":1380},{"s":"Oceania","t":2002.5,"v":1260},{"s":"Oceania","t":2002.8,"v":1500},{"s":"Oceania","t":2003.1,"v":1860},{"s":"Oceania","t":2003.5,"v":1740},{"s":"Oceania","t":2003.95,"v":1860},{"s":"Oceania","t":2004.4,"v":1980},{"s":"Oceania","t":2004.85,"v":2220},{"s":"Oceania","t":2005.3,"v":2280},{"s":"Oceania","t":2005.9,"v":2220},{"s":"Oceania","t":2006.3,"v":2160},{"s":"Oceania","t":2006.6,"v":2120},{"s":"Oceania","t":2006.85,"v":2460},{"s":"Oceania","t":2007.15,"v":3300},{"s":"Oceania","t":2007.35,"v":4320},{"s":"Oceania","t":2007.6,"v":4740},{"s":"Oceania","t":2007.75,"v":5040},{"s":"Oceania","t":2007.9,"v":4740},{"s":"Oceania","t":2008.15,"v":4680},{"s":"Oceania","t":2008.35,"v":4620},{"s":"Oceania","t":2008.55,"v":4440},{"s":"Oceania","t":2008.7,"v":3300},{"s":"Oceania","t":2008.85,"v":2460},{"s":"Oceania","t":2009.0,"v":1860},{"s":"Oceania","t":2009.2,"v":2220},{"s":"Oceania","t":2009.4,"v":2100},{"s":"Oceania","t":2009.55,"v":2400},{"s":"Oceania","t":2009.75,"v":3420},{"s":"Oceania","t":2009.9,"v":3480},{"s":"Oceania","t":2010.05,"v":3300},{"s":"Oceania","t":2010.3,"v":4080},{"s":"Oceania","t":2010.45,"v":3420},{"s":"Oceania","t":2010.65,"v":3660},{"s":"Oceania","t":2010.9,"v":3780},{"s":"Oceania","t":2011.1,"v":4320},{"s":"Oceania","t":2011.25,"v":4140},{"s":"Oceania","t":2011.45,"v":3660},{"s":"Oceania","t":2011.7,"v":3600},{"s":"Oceania","t":2011.95,"v":3660},{"s":"Oceania","t":2012.15,"v":3420},{"s":"Oceania","t":2012.35,"v":2760},{"s":"Oceania","t":2012.5,"v":3180},{"s":"Oceania","t":2012.75,"v":3660},{"s":"Oceania","t":2012.95,"v":3780},{"s":"Oceania","t":2013.1,"v":4380},{"s":"Oceania","t":2013.2,"v":5520},{"s":"Oceania","t":2013.3,"v":4740},{"s":"Oceania","t":2013.5,"v":4920},{"s":"Oceania","t":2013.75,"v":4980},{"s":"Oceania","t":2014.0,"v":5040},{"s":"Oceania","t":2014.25,"v":4680},{"s":"Oceania","t":2014.4,"v":3900},{"s":"Oceania","t":2014.55,"v":3180},{"s":"Oceania","t":2014.7,"v":2700},{"s":"Oceania","t":2014.8,"v":2460},{"s":"Oceania","t":2015.05,"v":3000},{"s":"Oceania","t":2015.15,"v":3540},{"s":"Oceania","t":2015.25,"v":2700},{"s":"Oceania","t":2015.4,"v":2280},{"s":"Oceania","t":2015.52,"v":1800},
{"s":"EU","t":2000.0,"v":1640},{"s":"EU","t":2000.2,"v":1620},{"s":"EU","t":2000.45,"v":2000},{"s":"EU","t":2000.8,"v":2080},{"s":"EU","t":2001.25,"v":2040},{"s":"EU","t":2001.65,"v":1980},{"s":"EU","t":2001.95,"v":1740},{"s":"EU","t":2002.15,"v":1440},{"s":"EU","t":2002.45,"v":1320},{"s":"EU","t":2002.7,"v":1320},{"s":"EU","t":2002.9,"v":1620},{"s":"EU","t":2003.1,"v":1760},{"s":"EU","t":2003.35,"v":1740},{"s":"EU","t":2003.65,"v":1920},{"s":"EU","t":2003.95,"v":1980},{"s":"EU","t":2004.25,"v":2100},{"s":"EU","t":2004.5,"v":2400},{"s":"EU","t":2004.7,"v":2340},{"s":"EU","t":2005.0,"v":2340},{"s":"EU","t":2005.45,"v":2280},{"s":"EU","t":2005.9,"v":2280},{"s":"EU","t":2006.3,"v":2280},{"s":"EU","t":2006.6,"v":2280},{"s":"EU","t":2006.85,"v":2820},{"s":"EU","t":2007.05,"v":3660},{"s":"EU","t":2007.2,"v":4860},{"s":"EU","t":2007.35,"v":5220},{"s":"EU","t":2007.5,"v":5340},{"s":"EU","t":2007.6,"v":5580},{"s":"EU","t":2007.75,"v":5340},{"s":"EU","t":2007.9,"v":4800},{"s":"EU","t":2008.05,"v":4380},{"s":"EU","t":2008.2,"v":4680},{"s":"EU","t":2008.4,"v":4440},{"s":"EU","t":2008.55,"v":4380},{"s":"EU","t":2008.7,"v":3180},{"s":"EU","t":2008.85,"v":2700},{"s":"EU","t":2009.0,"v":2280},{"s":"EU","t":2009.2,"v":2520},{"s":"EU","t":2009.45,"v":2580},{"s":"EU","t":2009.6,"v":2700},{"s":"EU","t":2009.75,"v":3660},{"s":"EU","t":2009.85,"v":4020},{"s":"EU","t":2010.0,"v":3420},{"s":"EU","t":2010.2,"v":3660},{"s":"EU","t":2010.35,"v":3660},{"s":"EU","t":2010.6,"v":3600},{"s":"EU","t":2010.8,"v":3900},{"s":"EU","t":2010.95,"v":4260},{"s":"EU","t":2011.1,"v":4860},{"s":"EU","t":2011.25,"v":4440},{"s":"EU","t":2011.4,"v":4380},{"s":"EU","t":2011.65,"v":4140},{"s":"EU","t":2011.85,"v":3900},{"s":"EU","t":2012.05,"v":3780},{"s":"EU","t":2012.2,"v":3060},{"s":"EU","t":2012.35,"v":3120},{"s":"EU","t":2012.6,"v":3840},{"s":"EU","t":2012.8,"v":3900},{"s":"EU","t":2013.0,"v":4080},{"s":"EU","t":2013.15,"v":4860},{"s":"EU","t":2013.4,"v":4800},{"s":"EU","t":2013.6,"v":4980},{"s":"EU","t":2013.85,"v":5100},{"s":"EU","t":2014.05,"v":5160},{"s":"EU","t":2014.25,"v":4980},{"s":"EU","t":2014.35,"v":4620},{"s":"EU","t":2014.5,"v":3900},{"s":"EU","t":2014.65,"v":3180},{"s":"EU","t":2014.8,"v":2820},{"s":"EU","t":2014.95,"v":2760},{"s":"EU","t":2015.1,"v":3060},{"s":"EU","t":2015.25,"v":2700},{"s":"EU","t":2015.4,"v":2520},{"s":"EU","t":2015.52,"v":2040}
]
},
"concat": [
{
"title": "Butter",
"width": 424, "height": 166,
"data": {"name": "butter"},
"mark": {"type": "line", "strokeWidth": 2.2},
"encoding": {
"x": {"field": "t", "type": "quantitative", "scale": {"domain": [2000, 2015.55], "nice": false, "zero": false}, "axis": {"title": null, "values": [2000,2001,2002,2003,2004,2005,2006,2007,2008,2009,2010,2011,2012,2013,2014,2015], "format": "d", "labelExpr": "datum.value % 5 == 0 ? datum.label : ''"}},
"y": {"field": "v", "type": "quantitative", "scale": {"domain": [0, 8000], "nice": false}, "axis": {"title": "$USD/MT", "values": [0,2000,4000,6000,8000], "format": "$,d"}},
"color": {"field": "s", "type": "nominal", "scale": {"domain": ["U.S.","Oceania","EU"], "range": ["#000000","#000000","#8c8c8c"]}, "legend": {"title": null, "orient": "none", "legendX": -62, "legendY": 216, "direction": "horizontal"}},
"strokeDash": {"field": "s", "type": "nominal", "scale": {"domain": ["U.S.","Oceania","EU"], "range": [[1,0],[2,3],[1,0]]}, "legend": {"title": null, "orient": "none", "legendX": -62, "legendY": 216, "direction": "horizontal"}}
}
},
{
"title": "Cheddar",
"width": 416, "height": 166,
"data": {"name": "cheddar"},
"mark": {"type": "line", "strokeWidth": 2.2},
"encoding": {
"x": {"field": "t", "type": "quantitative", "scale": {"domain": [2000, 2015.55], "nice": false, "zero": false}, "axis": {"title": null, "values": [2000,2001,2002,2003,2004,2005,2006,2007,2008,2009,2010,2011,2012,2013,2014,2015], "format": "d", "labelExpr": "datum.value % 5 == 0 ? datum.label : ''"}},
"y": {"field": "v", "type": "quantitative", "scale": {"domain": [0, 8000], "nice": false}, "axis": {"title": "$USD/MT", "values": [0,2000,4000,6000,8000], "format": "$,d"}},
"color": {"field": "s", "type": "nominal", "scale": {"domain": ["U.S.","Oceania","EU"], "range": ["#000000","#000000","#8c8c8c"]}, "legend": {"title": null, "orient": "none", "legendX": -62, "legendY": 216, "direction": "horizontal"}},
"strokeDash": {"field": "s", "type": "nominal", "scale": {"domain": ["U.S.","Oceania","EU"], "range": [[1,0],[2,3],[1,0]]}, "legend": {"title": null, "orient": "none", "legendX": -62, "legendY": 216, "direction": "horizontal"}}
}
},
{
"title": "NONFAT & SMP",
"width": 424, "height": 166,
"data": {"name": "nonfat"},
"mark": {"type": "line", "strokeWidth": 2.2},
"encoding": {
"x": {"field": "t", "type": "quantitative", "scale": {"domain": [2000, 2015.55], "nice": false, "zero": false}, "axis": {"title": null, "values": [2000,2001,2002,2003,2004,2005,2006,2007,2008,2009,2010,2011,2012,2013,2014,2015], "format": "d", "labelExpr": "datum.value % 5 == 0 ? datum.label : ''"}},
"y": {"field": "v", "type": "quantitative", "scale": {"domain": [0, 6000], "nice": false}, "axis": {"title": "$USD/MT", "values": [0,2000,4000,6000], "format": "$,d"}},
"color": {"field": "s", "type": "nominal", "scale": {"domain": ["U.S.","Oceania","EU"], "range": ["#000000","#000000","#8c8c8c"]}, "legend": {"title": null, "orient": "none", "legendX": -62, "legendY": 216, "direction": "horizontal"}},
"strokeDash": {"field": "s", "type": "nominal", "scale": {"domain": ["U.S.","Oceania","EU"], "range": [[1,0],[2,3],[1,0]]}, "legend": {"title": null, "orient": "none", "legendX": -62, "legendY": 216, "direction": "horizontal"}}
}
},
{
"title": "Whole Milk Powder",
"width": 416, "height": 166,
"data": {"name": "wmp"},
"mark": {"type": "line", "strokeWidth": 2.2},
"encoding": {
"x": {"field": "t", "type": "quantitative", "scale": {"domain": [2000, 2015.55], "nice": false, "zero": false}, "axis": {"title": null, "values": [2000,2001,2002,2003,2004,2005,2006,2007,2008,2009,2010,2011,2012,2013,2014,2015], "format": "d", "labelExpr": "datum.value % 5 == 0 ? datum.label : ''"}},
"y": {"field": "v", "type": "quantitative", "scale": {"domain": [0, 6000], "nice": false}, "axis": {"title": "$USD/MT", "values": [0,2000,4000,6000], "format": "$,d"}},
"color": {"field": "s", "type": "nominal", "scale": {"domain": ["U.S.","Oceania","EU"], "range": ["#000000","#000000","#8c8c8c"]}, "legend": {"title": null, "orient": "none", "legendX": -62, "legendY": 216, "direction": "horizontal"}},
"strokeDash": {"field": "s", "type": "nominal", "scale": {"domain": ["U.S.","Oceania","EU"], "range": [[1,0],[2,3],[1,0]]}, "legend": {"title": null, "orient": "none", "legendX": -62, "legendY": 216, "direction": "horizontal"}}
}
}
],
"resolve": {"scale": {"x": "independent", "y": "independent", "color": "independent", "strokeDash": "independent"}, "legend": {"color": "independent", "strokeDash": "independent"}},
"config": {
"font": "Liberation Serif",
"view": {"stroke": null},
"title": {"font": "Liberation Serif", "fontSize": 24, "fontWeight": "bold", "color": "#000000", "anchor": "middle", "frame": "bounds", "offset": 16},
"axis": {"labelFont": "Liberation Serif", "labelFontSize": 21, "labelColor": "#000000", "titleFont": "Liberation Serif", "titleFontSize": 21, "titleFontWeight": "normal", "titleColor": "#000000", "grid": false, "domainColor": "#000000", "tickColor": "#000000"},
"axisX": {"labelAngle": 270, "labelFontSize": 20, "tickSize": 6, "tickWidth": 1.5, "domainWidth": 1.5, "labelPadding": 9, "labelFlush": false, "labelOverlap": false},
"axisY": {"domain": false, "ticks": false, "labelPadding": 20, "titlePadding": 16},
"legend": {"labelFont": "Liberation Serif", "labelFontSize": 22, "labelColor": "#000000", "symbolType": "stroke", "symbolSize": 4600, "symbolStrokeWidth": 2.5, "labelOffset": 6, "columnPadding": 34, "padding": 0}
}
}
